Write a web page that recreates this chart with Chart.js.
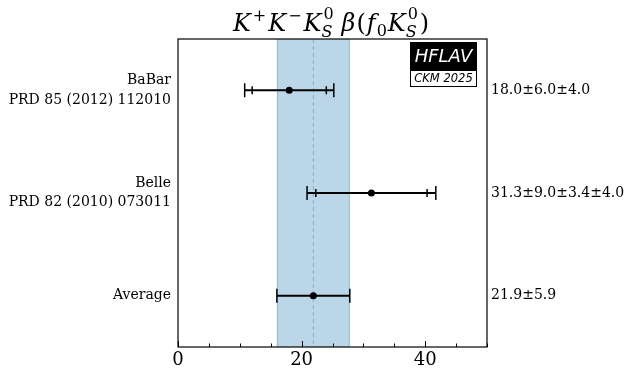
<!DOCTYPE html>
<html>
<head>
<meta charset="utf-8">
<script src="https://cdn.jsdelivr.net/npm/chart.js@4.4.1/dist/chart.umd.min.js"></script>
<style>
html, body { margin: 0; padding: 0; background: #fff; }
#wrap { width: 631px; height: 382px; }
</style>
</head>
<body>
<div id="wrap"><canvas id="chart" width="631" height="382"></canvas></div>
<script>
// measurements, top row first
var experiments = [['BaBar', 'PRD 85 (2012) 112010'], ['Belle', 'PRD 82 (2010) 073011'], ['Average']];
var rowPositions = [2, 1, 0];
var centralValues = [18.0, 31.3, 21.9];
var statErrors = [6.0, 9.0, 5.9];
var systErrors = [[4.0], [3.4, 4.0], []];
var resultLabels = ['18.0\u00b16.0\u00b14.0', '31.3\u00b19.0\u00b13.4\u00b14.0', '21.9\u00b15.9'];
var xLabelTicks = [0, 20, 40];
var xMinorStep = 5;
var averageIndex = 2;

var serif = '"DejaVu Serif", "Liberation Serif", serif';

function totalError(i) {
    var s = statErrors[i] * statErrors[i];
    for (var k = 0; k < systErrors[i].length; k++) s += systErrors[i][k] * systErrors[i][k];
    return Math.sqrt(s);
}

var points = [];
for (var i = 0; i < centralValues.length; i++) {
    points.push({ x: centralValues[i], y: rowPositions[i] });
}

function fixedWidth(w) { return function (scale) { scale.width = w; }; }
function rowTicks(scale) {
    scale.ticks = rowPositions.map(function (v) { return { value: v }; });
}
function rowIndex(value) { return rowPositions.indexOf(value); }

var decorations = {
    id: 'decorations',
    beforeDatasetsDraw: function (chart) {
        var ctx = chart.ctx, area = chart.chartArea;
        var x = chart.scales.x, y = chart.scales.y;
        var avg = centralValues[averageIndex], avgErr = totalError(averageIndex);
        var bl = x.getPixelForValue(avg - avgErr), br = x.getPixelForValue(avg + avgErr);

        ctx.save();
        ctx.fillStyle = 'rgba(31,119,180,0.3)';
        ctx.fillRect(bl, area.top, br - bl, area.bottom - area.top);
        ctx.strokeStyle = 'rgba(31,119,180,0.3)';
        ctx.lineWidth = 1;
        ctx.beginPath();
        ctx.moveTo(bl + 0.5, area.top); ctx.lineTo(bl + 0.5, area.bottom);
        ctx.moveTo(br - 0.5, area.top); ctx.lineTo(br - 0.5, area.bottom);
        ctx.stroke();

        var cx = x.getPixelForValue(avg);
        ctx.strokeStyle = 'rgba(31,119,180,0.4)';
        ctx.setLineDash([4, 3]);
        ctx.beginPath();
        ctx.moveTo(cx, area.top); ctx.lineTo(cx, area.bottom);
        ctx.stroke();
        ctx.setLineDash([]);

        // error bars
        ctx.strokeStyle = '#000';
        for (var i = 0; i < centralValues.length; i++) {
            var py = y.getPixelForValue(rowPositions[i]);
            var tot = totalError(i);
            var lo = x.getPixelForValue(centralValues[i] - tot);
            var hi = x.getPixelForValue(centralValues[i] + tot);
            ctx.lineWidth = 2;
            ctx.beginPath();
            ctx.moveTo(lo, py); ctx.lineTo(hi, py);
            ctx.stroke();
            ctx.lineWidth = 1.5;
            ctx.beginPath();
            ctx.moveTo(lo, py - 7); ctx.lineTo(lo, py + 7);
            ctx.moveTo(hi, py - 7); ctx.lineTo(hi, py + 7);
            if (systErrors[i].length) {
                var sl = x.getPixelForValue(centralValues[i] - statErrors[i]);
                var sh = x.getPixelForValue(centralValues[i] + statErrors[i]);
                ctx.moveTo(sl, py - 4); ctx.lineTo(sl, py + 4);
                ctx.moveTo(sh, py - 4); ctx.lineTo(sh, py + 4);
            }
            ctx.stroke();
        }
        ctx.restore();
    },
    afterDraw: function (chart) {
        var ctx = chart.ctx, area = chart.chartArea, x = chart.scales.x;
        ctx.save();
        ctx.strokeStyle = '#000';
        ctx.lineWidth = 1.2;
        ctx.strokeRect(area.left, area.top, area.right - area.left, area.bottom - area.top);

        // inward ticks on the bottom axis
        ctx.lineWidth = 1;
        ctx.beginPath();
        for (var v = x.min; v <= x.max; v += xMinorStep) {
            var px = Math.round(x.getPixelForValue(v)) + 0.5;
            var len = xLabelTicks.indexOf(v) >= 0 ? 6 : 3.5;
            ctx.moveTo(px, area.bottom); ctx.lineTo(px, area.bottom - len);
        }
        ctx.stroke();

        // title with sub/superscripts: [font, text, raise, gap after]
        var big = 'italic 24px ' + serif, up = '16px ' + serif, upIt = 'italic 16px ' + serif, rm = '24px ' + serif;
        var parts = [
            [big, 'K', 0, 2], [up, '+', -10, 2], [big, 'K', 0, 2], [up, '\u2212', -10, 2],
            [big, 'K', 0, 1], ['stack', '', 0, 7], [big, '\u03b2', 0, 1], [rm, '(', 0, 1],
            [big, 'f', 0, 1], [up, '0', 5, 1], [big, 'K', 0, 1], ['stack', '', 0, 1], [rm, ')', 0, 0]
        ];
        function width(p) {
            if (p[0] === 'stack') { ctx.font = upIt; return ctx.measureText('S').width + 1 + p[3]; }
            ctx.font = p[0]; return ctx.measureText(p[1]).width + p[3];
        }
        var total = 0;
        parts.forEach(function (p) { total += width(p); });
        var tx = 331 - total / 2, base = 31;
        ctx.fillStyle = '#000';
        ctx.textBaseline = 'alphabetic';
        ctx.textAlign = 'left';
        parts.forEach(function (p) {
            var w = width(p);
            if (p[0] === 'stack') {
                ctx.font = up; ctx.fillText('0', tx + 1, base - 12);
                ctx.font = upIt; ctx.fillText('S', tx - 1, base + 6);
            } else {
                ctx.font = p[0]; ctx.fillText(p[1], tx, base + p[2]);
            }
            tx += w;
        });

        // HFLAV badge
        var bx = 410, by = 42, bw = 67;
        ctx.fillStyle = '#000';
        ctx.fillRect(bx, by, bw, 28);
        ctx.fillStyle = '#fff';
        ctx.fillRect(bx, by + 28, bw, 17);
        ctx.lineWidth = 1;
        ctx.strokeRect(bx + 0.5, by + 28.5, bw - 1, 16);
        ctx.textAlign = 'center';
        ctx.textBaseline = 'middle';
        ctx.font = 'italic 18px "DejaVu Sans", sans-serif';
        ctx.fillStyle = '#fff';
        ctx.fillText('HFLAV', bx + bw / 2, by + 15);
        ctx.font = 'italic 11.5px "DejaVu Sans", sans-serif';
        ctx.fillStyle = '#000';
        ctx.fillText('CKM 2025', bx + bw / 2, by + 37);
        ctx.restore();
    }
};

new Chart(document.getElementById('chart'), {
    type: 'scatter',
    data: {
        datasets: [{
            data: points,
            pointRadius: 3.5,
            pointHoverRadius: 3.5,
            backgroundColor: '#000',
            borderColor: '#000',
            borderWidth: 0
        }]
    },
    options: {
        responsive: false,
        animation: false,
        devicePixelRatio: 1,
        layout: { padding: { top: 39, left: 0, right: 0, bottom: 0 } },
        plugins: { legend: { display: false }, tooltip: { enabled: false } },
        scales: {
            x: {
                type: 'linear',
                position: 'bottom',
                min: 0,
                max: 50,
                afterBuildTicks: function (scale) {
                    scale.ticks = xLabelTicks.map(function (v) { return { value: v }; });
                },
                afterFit: function (scale) { scale.height = 35; },
                grid: { display: false, drawTicks: false },
                border: { display: false },
                ticks: {
                    color: '#000',
                    padding: 3,
                    maxRotation: 0,
                    font: { family: serif, size: 18 }
                }
            },
            y: {
                type: 'linear',
                position: 'left',
                min: -0.5,
                max: 2.5,
                afterBuildTicks: rowTicks,
                afterFit: fixedWidth(178),
                grid: { display: false, drawTicks: false },
                border: { display: false },
                ticks: {
                    color: '#000',
                    padding: 7,
                    font: { family: serif, size: 14, lineHeight: 1.4 },
                    callback: function (value) { return experiments[rowIndex(value)]; }
                }
            },
            y2: {
                type: 'linear',
                position: 'right',
                min: -0.5,
                max: 2.5,
                afterBuildTicks: rowTicks,
                afterFit: fixedWidth(144),
                grid: { display: false, drawTicks: false },
                border: { display: false },
                ticks: {
                    color: '#000',
                    padding: 4,
                    font: { family: serif, size: 14 },
                    callback: function (value) { return resultLabels[rowIndex(value)]; }
                }
            }
        }
    },
    plugins: [decorations]
});
</script>
</body>
</html>
